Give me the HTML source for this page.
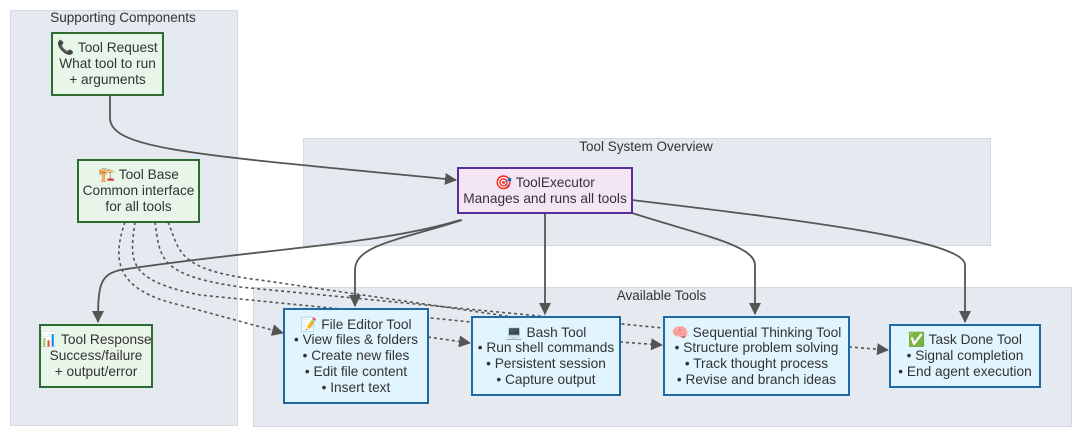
<!DOCTYPE html>
<html><head><meta charset="utf-8"><style>
html,body{margin:0;padding:0;background:#fff;}
body{width:1080px;height:438px;position:relative;overflow:hidden;font-family:"Liberation Sans","DejaVu Sans",sans-serif;color:#333;}
.cl{position:absolute;background:#e5e9f0;border:1px solid #d5dae2;}
.ct{position:absolute;font-size:13.5px;color:#333;text-align:center;}
.n{position:absolute;box-sizing:border-box;display:flex;flex-direction:column;justify-content:center;align-items:center;text-align:center;font-size:13.7px;line-height:15.7px;color:#333;white-space:nowrap;}
.g{background:#e8f5e9;border:2px solid #2e6b30;}
.b{background:#e1f5fe;border:2px solid #1f6aa5;}
.p{background:#f3e5f5;border:2px solid #5b2f99;}
svg{position:absolute;left:0;top:0;}
</style></head><body>
<div class="cl" style="left:10px;top:10px;width:226px;height:414px"></div>
<div class="ct" style="left:10px;top:10px;width:226px">Supporting Components</div>
<div class="cl" style="left:303px;top:138px;width:686px;height:106px"></div>
<div class="ct" style="left:303px;top:139px;width:686px">Tool System Overview</div>
<div class="cl" style="left:253px;top:287px;width:817px;height:138px"></div>
<div class="ct" style="left:253px;top:288px;width:817px">Available Tools</div>

<svg width="1080" height="438">
<defs><marker id="a" markerWidth="12" markerHeight="12" refX="11" refY="6" orient="auto" markerUnits="userSpaceOnUse"><path d="M0,0 L12,6 L0,12z" fill="#555"/></marker></defs>
<g fill="none" stroke="#555" stroke-width="1.6" stroke-dasharray="3,3">
<path d="M125,222 C112,260 115,290 180,305 L283,333" marker-end="url(#a)"/>
<path d="M135,222 C130,260 125,280 200,295 L471,322"/>
<path d="M155,222 C160,260 160,275 240,287 L663,328"/>
<path d="M168,222 C180,250 175,270 260,280 L520,318"/>
<path d="M428,337 L470,343" marker-end="url(#a)"/>
<path d="M620,342 L662,345" marker-end="url(#a)"/>
<path d="M849,347 L888,350" marker-end="url(#a)"/>
</g>
<g fill="none" stroke="#555" stroke-width="1.8">
<path d="M110,95 L110,118 C110,150 200,155 456,180" marker-end="url(#a)"/>
<path d="M460,220 C380,245 250,250 120,270 C100,275 98,285 98,322" marker-end="url(#a)"/>
<path d="M462,220 C400,240 355,245 355,270 L355,306" marker-end="url(#a)"/>
<path d="M545,213 L545,314" marker-end="url(#a)"/>
<path d="M632,213 C700,235 755,245 755,265 L755,314" marker-end="url(#a)"/>
<path d="M632,200 C800,220 965,240 965,265 L965,322" marker-end="url(#a)"/>
</g>
</svg>

<div class="n g" style="left:51px;top:32px;width:113px;height:64px">📞 Tool Request<br>What tool to run<br>+ arguments</div>
<div class="n g" style="left:77px;top:159px;width:123px;height:64px">🏗️ Tool Base<br>Common interface<br>for all tools</div>
<div class="n g" style="left:39px;top:324px;width:114px;height:64px">📊 Tool Response<br>Success/failure<br>+ output/error</div>
<div class="n p" style="left:457px;top:167px;width:176px;height:47px">🎯 ToolExecutor<br>Manages and runs all tools</div>
<div class="n b" style="left:283px;top:308px;width:146px;height:96px">📝 File Editor Tool<br>• View files &amp; folders<br>• Create new files<br>• Edit file content<br>• Insert text</div>
<div class="n b" style="left:471px;top:316px;width:150px;height:80px">💻 Bash Tool<br>• Run shell commands<br>• Persistent session<br>• Capture output</div>
<div class="n b" style="left:663px;top:316px;width:187px;height:80px">🧠 Sequential Thinking Tool<br>• Structure problem solving<br>• Track thought process<br>• Revise and branch ideas</div>
<div class="n b" style="left:889px;top:324px;width:152px;height:64px">✅ Task Done Tool<br>• Signal completion<br>• End agent execution</div>
</body></html>
